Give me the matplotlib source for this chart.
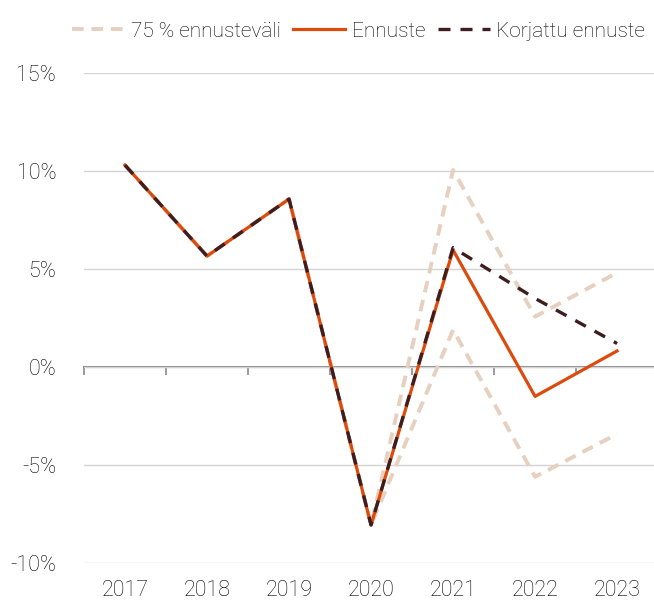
import matplotlib
matplotlib.use("Agg")
import matplotlib.pyplot as plt
import numpy as np

plt.rcParams["font.family"] = ["Roboto", "DejaVu Sans"]
plt.rcParams["font.weight"] = "light"

years = ["2017", "2018", "2019", "2020", "2021", "2022", "2023"]
ennuste = [10.3, 5.66, 8.57, -8.06, 5.97, -1.5, 0.82]
korjattu = [10.3, 5.66, 8.57, -8.06, 6.09, 3.5, 1.2]
upper = [10.3, 5.66, 8.57, -8.06, 10.05, 2.57, 4.81]
lower = [10.3, 5.66, 8.57, -8.06, 1.89, -5.6, -3.42]

c_band = "#e6d0bf"
c_orange = "#dc4a0c"
c_dark = "#3d1d20"

fig = plt.figure(figsize=(6.54, 6.05), dpi=100)
ax = fig.add_axes([0.1284, 0.0694, 0.8716, 0.8099])

x = np.arange(len(years))

ax.plot(x, upper, color=c_band, lw=2.8, dashes=(3.0, 2.0), label="75 % ennusteväli")
ax.plot(x, lower, color=c_band, lw=2.8, dashes=(3.0, 2.0))
ax.plot(x, ennuste, color=c_orange, lw=2.3, label="Ennuste")
ax.plot(x, korjattu, color=c_dark, lw=2.4, dashes=(3.6, 3.0), label="Korjattu ennuste")

ax.set_xlim(-0.5, 6.45)
ax.set_ylim(-10, 15)
ax.set_yticks([-10, -5, 0, 5, 10, 15])
ax.set_yticklabels(["-10%", "-5%", "0%", "5%", "10%", "15%"])
ax.yaxis.grid(True, color="#d3d3d3", lw=1)
ax.set_axisbelow(True)
for s in ax.spines.values():
    s.set_visible(False)
ax.tick_params(axis="y", length=0, pad=20, labelsize=15.5, labelcolor="#000000")

ax.set_xticks(x)
ax.set_xticklabels(years)
ax.tick_params(axis="x", length=0, pad=12, labelsize=15.5, labelcolor="#000000")

# zero axis with category separator ticks
sec = ax.secondary_xaxis(0.4)
sec.set_xticks(np.arange(-0.5, 6.5, 1.0))
sec.set_xticklabels([])
sec.tick_params(axis="x", length=6, width=1.2, color="#8a8a8a")
sec.spines["bottom"].set_color("#8a8a8a")
sec.spines["bottom"].set_linewidth(1.5)

leg = fig.legend(loc="upper right", bbox_to_anchor=(1.005, 0.985), ncol=3,
                 frameon=False, fontsize=15, handlelength=2.5,
                 handletextpad=0.3, columnspacing=0.6, borderaxespad=0.2)
for t in leg.get_texts():
    t.set_color("#000000")

fig.savefig("out.png", dpi=100)
